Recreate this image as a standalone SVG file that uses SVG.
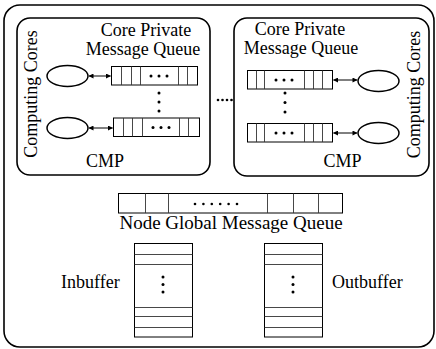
<svg xmlns="http://www.w3.org/2000/svg" width="436" height="349" viewBox="0 0 436 349">
<defs>
<style>
.t{font-family:"Liberation Serif","Times New Roman",serif;font-size:18px;fill:#000}
.box{fill:none;stroke:#000;stroke-width:1.6}
.q{fill:#fff;stroke:#000;stroke-width:1}
.d{stroke:#333;stroke-width:0.9}
.core{fill:#fff;stroke:#000;stroke-width:1.5}
.arr{stroke:#000;stroke-width:1;marker-start:url(#ah);marker-end:url(#ah)}
.dot{fill:#000}
</style>
<marker id="ah" viewBox="0 0 10 10" refX="9" refY="5" markerWidth="6" markerHeight="5" orient="auto-start-reverse" markerUnits="userSpaceOnUse">
<path d="M0,0 L10,5 L0,10 Z" fill="#000"/>
</marker>
</defs>

<g id="node-outer">
<rect class="box" x="4" y="5" width="430" height="342" rx="16" ry="16" stroke-width="1.8"/>
</g>

<g id="cmp-left">
<rect class="box" x="17" y="18" width="193" height="157" rx="13" ry="13"/>
<text class="t" x="146" y="36" text-anchor="middle">Core Private</text>
<text class="t" x="143" y="55" text-anchor="middle">Message Queue</text>
<text class="t" transform="translate(37,94) rotate(-90)" text-anchor="middle">Computing Cores</text>
<text class="t" x="105" y="167" text-anchor="middle">CMP</text>
</g>

<g id="core-l1"><ellipse class="core" cx="67.5" cy="76" rx="20.5" ry="10.5"/></g>
<g id="core-l2"><ellipse class="core" cx="67.5" cy="128" rx="20.5" ry="10.5"/></g>

<g id="queue-l1">
<rect class="q" x="111.5" y="66.5" width="86" height="18.5"/>
<path class="d" d="M121.5,66.5V85M131.5,66.5V85M140.5,66.5V85M178.5,66.5V85M187.5,66.5V85"/>
<circle class="dot" cx="151" cy="76" r="1.5"/><circle class="dot" cx="159" cy="76" r="1.5"/><circle class="dot" cx="167" cy="76" r="1.5"/>
</g>
<g id="queue-l2">
<rect class="q" x="113.5" y="118" width="86" height="18.5"/>
<path class="d" d="M123.5,118V136.5M132.5,118V136.5M142.5,118V136.5M179.5,118V136.5M188.5,118V136.5"/>
<circle class="dot" cx="153" cy="127.5" r="1.5"/><circle class="dot" cx="161" cy="127.5" r="1.5"/><circle class="dot" cx="169" cy="127.5" r="1.5"/>
</g>
<g id="vdots-l">
<circle class="dot" cx="159" cy="93" r="1.5"/><circle class="dot" cx="159" cy="102" r="1.5"/><circle class="dot" cx="159" cy="111" r="1.5"/>
</g>

<g id="hdots-mid">
<circle class="dot" cx="218" cy="100" r="1.3"/><circle class="dot" cx="222.5" cy="100" r="1.3"/><circle class="dot" cx="227" cy="100" r="1.3"/><circle class="dot" cx="231.5" cy="100" r="1.3"/>
</g>

<g id="cmp-right">
<rect class="box" x="234" y="18" width="195" height="158" rx="13" ry="13"/>
<text class="t" x="300" y="35" text-anchor="middle">Core Private</text>
<text class="t" x="301" y="54" text-anchor="middle">Message Queue</text>
<text class="t" transform="translate(420,94.5) rotate(-90)" text-anchor="middle">Computing Cores</text>
<text class="t" x="342.5" y="167" text-anchor="middle">CMP</text>
</g>

<g id="core-r1"><ellipse class="core" cx="378.5" cy="81" rx="20.5" ry="10.5"/></g>
<g id="core-r2"><ellipse class="core" cx="378.5" cy="133" rx="20.5" ry="10.5"/></g>

<g id="queue-r1">
<rect class="q" x="247.5" y="70.5" width="85" height="18.5"/>
<path class="d" d="M256.5,70.5V89M264.5,70.5V89M304.5,70.5V89M313.5,70.5V89M322.5,70.5V89"/>
<circle class="dot" cx="276" cy="80" r="1.5"/><circle class="dot" cx="284" cy="80" r="1.5"/><circle class="dot" cx="292" cy="80" r="1.5"/>
</g>
<g id="queue-r2">
<rect class="q" x="247.5" y="123.5" width="85" height="18.5"/>
<path class="d" d="M256.5,123.5V142M264.5,123.5V142M304.5,123.5V142M313.5,123.5V142M322.5,123.5V142"/>
<circle class="dot" cx="276" cy="133" r="1.5"/><circle class="dot" cx="284" cy="133" r="1.5"/><circle class="dot" cx="292" cy="133" r="1.5"/>
</g>
<g id="vdots-r">
<circle class="dot" cx="285" cy="93" r="1.5"/><circle class="dot" cx="285" cy="102.5" r="1.5"/><circle class="dot" cx="285" cy="112" r="1.5"/>
</g>

<g id="global-queue">
<rect class="q" x="118.5" y="193.5" width="224" height="19.5"/>
<path class="d" d="M145.5,193.5V213M168.5,193.5V213M267.5,193.5V213M293.5,193.5V213M318.5,193.5V213"/>
<circle class="dot" cx="195" cy="204" r="1.3"/><circle class="dot" cx="203.4" cy="204" r="1.3"/><circle class="dot" cx="211.8" cy="204" r="1.3"/><circle class="dot" cx="220.2" cy="204" r="1.3"/><circle class="dot" cx="228.6" cy="204" r="1.3"/><circle class="dot" cx="237" cy="204" r="1.3"/>
<text class="t" x="231" y="229" text-anchor="middle" style="font-size:19px">Node Global Message Queue</text>
</g>

<g id="inbuffer">
<rect class="q" x="134.5" y="243.5" width="58" height="93.5"/>
<path class="d" d="M134.5,254.5H192.5M134.5,264.5H192.5M134.5,307.5H192.5M134.5,316.5H192.5M134.5,327.5H192.5"/>
<circle class="dot" cx="163" cy="277" r="1.5"/><circle class="dot" cx="163" cy="284.5" r="1.5"/><circle class="dot" cx="163" cy="292" r="1.5"/>
<text class="t" x="61" y="288">Inbuffer</text>
</g>

<g id="outbuffer">
<rect class="q" x="264.5" y="243.5" width="58" height="93.5"/>
<path class="d" d="M264.5,254.5H322.5M264.5,264.5H322.5M264.5,307.5H322.5M264.5,316.5H322.5M264.5,327.5H322.5"/>
<circle class="dot" cx="293" cy="277" r="1.5"/><circle class="dot" cx="293" cy="284.5" r="1.5"/><circle class="dot" cx="293" cy="292" r="1.5"/>
<text class="t" x="332" y="288">Outbuffer</text>
</g>

<g id="connectors">
<line class="arr" x1="89" y1="76" x2="110.5" y2="76"/>
<line class="arr" x1="89" y1="128" x2="112.5" y2="128"/>
<line class="arr" x1="333.5" y1="80" x2="357" y2="80"/>
<line class="arr" x1="333.5" y1="133" x2="357" y2="133"/>
</g>
</svg>
